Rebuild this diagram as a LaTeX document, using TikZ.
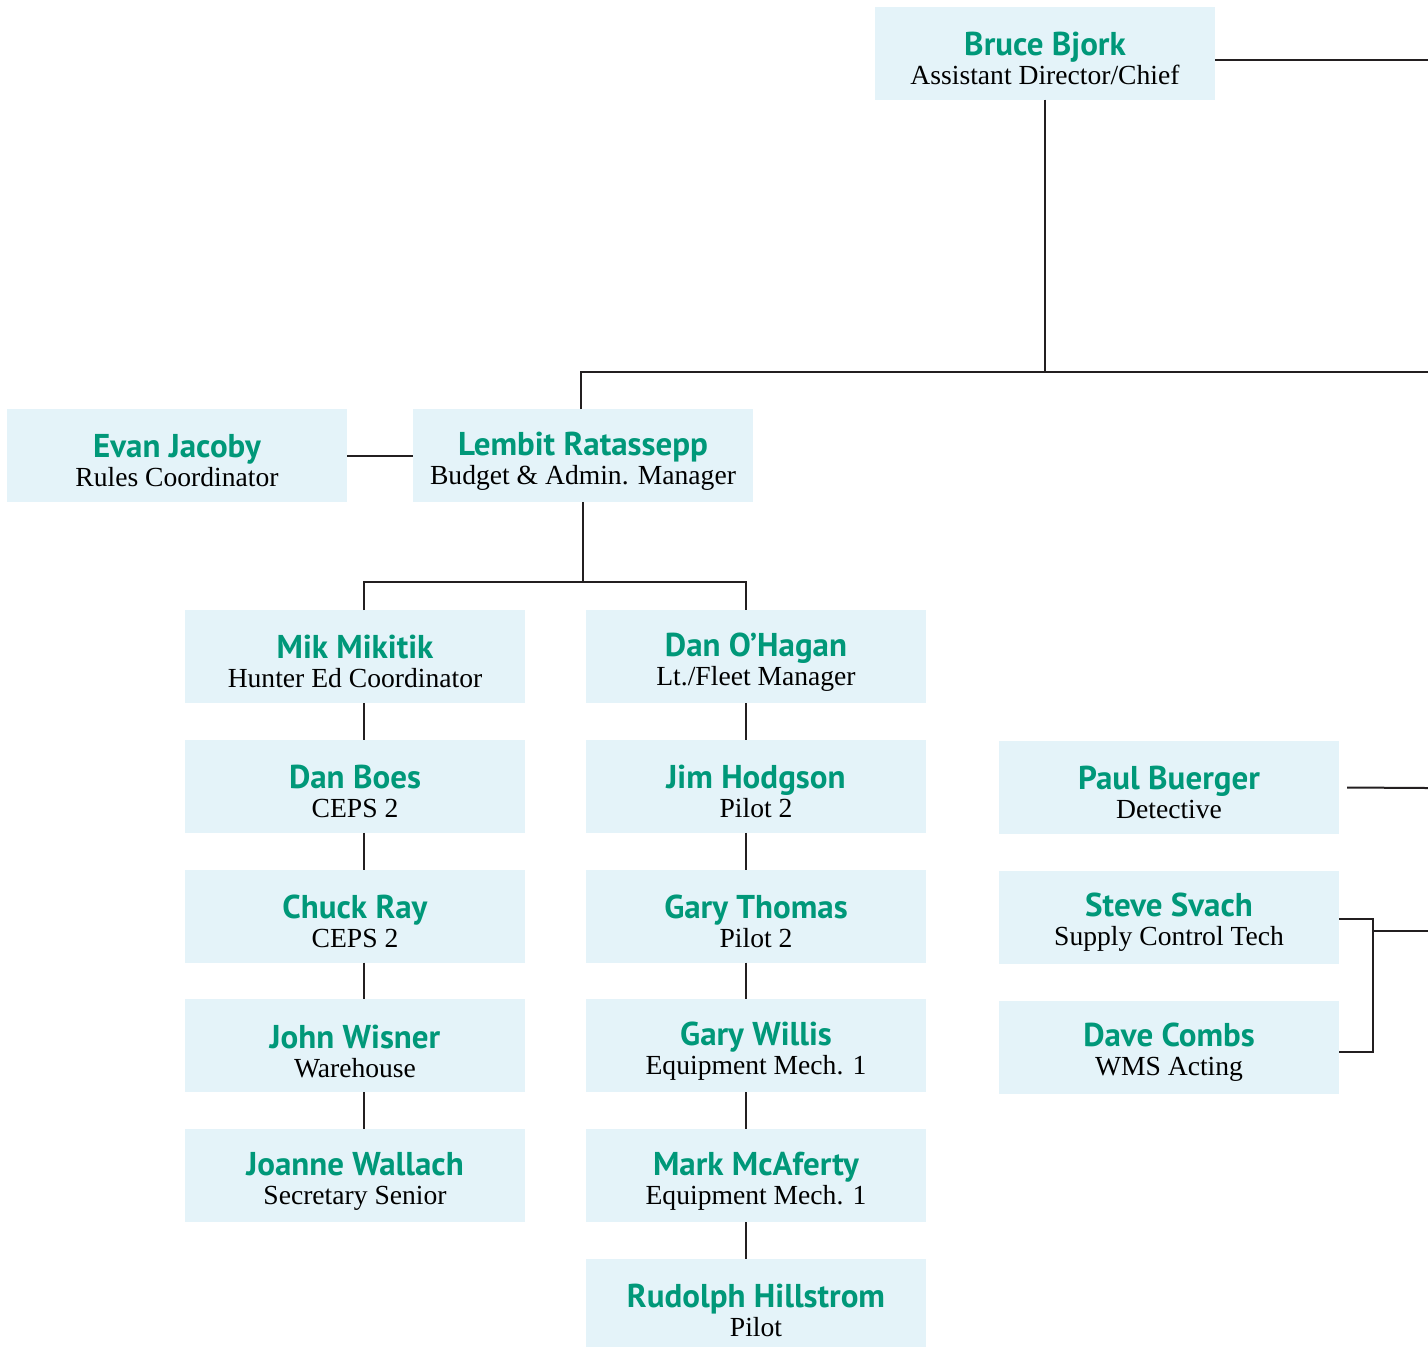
\documentclass[tikz,border=0pt]{standalone}
\usepackage{fontspec}
\setmainfont{Liberation Serif}
\newfontfamily\namefamily{PT Sans}
\usetikzlibrary{positioning}
\definecolor{boxblue}{RGB}{228,243,249}
\definecolor{namegreen}{RGB}{0,152,121}
\definecolor{linegray}{RGB}{35,31,32}
\newcommand{\person}[2]{{\namefamily\bfseries\fontsize{16.5}{14.5}\selectfont\color{namegreen}\rule{0pt}{17pt}#1}\\#2}
\tikzset{
  card/.style = {rectangle, fill=boxblue, draw=none,
                 minimum width=170pt, minimum height=46.5pt,
                 inner sep=0pt, outer sep=0pt, align=center,
                 font=\fontsize{13.8}{14.5}\selectfont},
  link/.style = {draw=linegray, line width=1pt}
}

\begin{document}
\begin{tikzpicture}[x=0.5pt, y=-0.5pt, node distance=18.4pt]
\useasboundingbox (0,0) rectangle (1428,1346);

% top of the chart
\node (bjork)     [card] at (1045,53)    {\person{Bruce Bjork}{Assistant Director/Chief}};
\node (jacoby)    [card] at (177,455.5)  {\person{Evan Jacoby}{Rules Coordinator}};
\node (ratassepp) [card] at (583,455.5)  {\person{Lembit Ratassepp}{Budget \& Admin. Manager}};

% left column
\node (mikitik) [card] at (355,656.5)      {\person{Mik Mikitik}{Hunter Ed Coordinator}};
\node (boes)    [card, below=of mikitik]   {\person{Dan Boes}{CEPS 2}};
\node (ray)     [card, below=of boes]      {\person{Chuck Ray}{CEPS 2}};
\node (wisner)  [card, below=of ray]       {\person{John Wisner}{Warehouse}};
\node (wallach) [card, below=of wisner]    {\person{Joanne Wallach}{Secretary Senior}};

% middle column
\node (ohagan)     [card] at (756,656.5)       {\person{Dan O’Hagan}{Lt./Fleet Manager}};
\node (hodgson)    [card, below=of ohagan]     {\person{Jim Hodgson}{Pilot 2}};
\node (thomas)     [card, below=of hodgson]    {\person{Gary Thomas}{Pilot 2}};
\node (willis)     [card, below=of thomas]     {\person{Gary Willis}{Equipment Mech. 1}};
\node (mcaferty)   [card, below=of willis]     {\person{Mark McAferty}{Equipment Mech. 1}};
\node (hillstrom)  [card, below=of mcaferty]   {\person{Rudolph Hillstrom}{Pilot}};

% right column
\node (buerger) [card] at (1169,787.5)     {\person{Paul Buerger}{Detective}};
\node (svach)   [card, below=of buerger]   {\person{Steve Svach}{Supply Control Tech}};
\node (combs)   [card, below=of svach]     {\person{Dave Combs}{WMS Acting}};

% free ends at the right edge
\coordinate (edgeA) at (1428,60);
\coordinate (edgeB) at (1428,372);
\coordinate (edgeC) at (1428,788);
\coordinate (edgeD) at (1428,931);
\coordinate (split) at (583,582);
\coordinate (brk)   at (1373,931);

\draw[link] ([yshift=-3.5pt]bjork.east) -- (edgeA);
\draw[link] (bjork.south) -- (bjork.south |- edgeB);
\draw[link] ([xshift=-1pt]ratassepp.north) -- ([xshift=-1pt]ratassepp.north |- edgeB) -- (edgeB);
\draw[link] (jacoby.east) -- (ratassepp.west);

\draw[link] (ratassepp.south) -- (split);
\draw[link] ([xshift=4.5pt]mikitik.north) |- (split) -| ([xshift=-5pt]ohagan.north);

\foreach \a/\b in {mikitik/boes, boes/ray, ray/wisner, wisner/wallach}
  \draw[link] ([xshift=4.5pt]\a.south) -- ([xshift=4.5pt]\b.north);
\foreach \a/\b in {ohagan/hodgson, hodgson/thomas, thomas/willis, willis/mcaferty, mcaferty/hillstrom}
  \draw[link] ([xshift=-5pt]\a.south) -- ([xshift=-5pt]\b.north);

\draw[link] ([xshift=4pt]buerger.east) -- (edgeC);
\draw[link] ([yshift=-0.75pt]svach.east) -| (brk) |- ([yshift=-2.25pt]combs.east);
\draw[link] (brk) -- (edgeD);

\end{tikzpicture}
\end{document}
